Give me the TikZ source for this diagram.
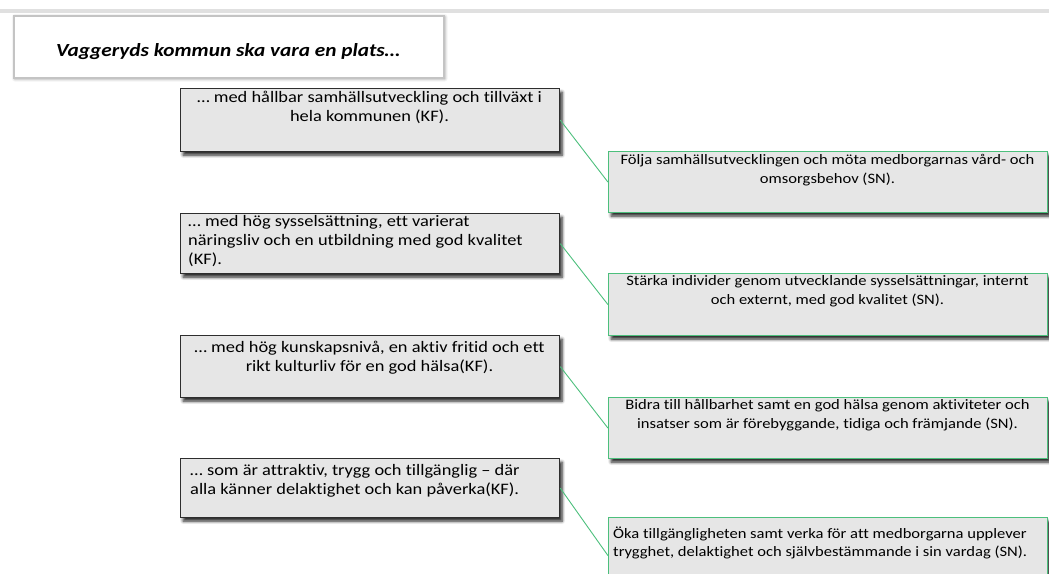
\documentclass[tikz,border=0pt]{standalone}
\usepackage{fontspec}
\setmainfont{Carlito}[FakeStretch=1.15, Ligatures=NoCommon]
\usetikzlibrary{shadows.blur}
\definecolor{boxfill}{HTML}{E6E6E6}
\definecolor{lborder}{HTML}{2E2E2E}
\definecolor{gborder}{HTML}{4CBF7C}
\definecolor{tborder}{HTML}{C4C4C4}
\definecolor{band}{HTML}{E0E0E0}
\begin{document}
\begin{tikzpicture}[x=1pt,y=-1pt,
  lbox/.style={draw=lborder, line width=1.3pt, fill=boxfill, anchor=north west, inner sep=0pt,
    minimum width=379pt,
    blur shadow={shadow xshift=2.5pt, shadow yshift=-3.5pt, shadow blur steps=6, shadow blur radius=3pt, shadow opacity=85}},
  rbox/.style={draw=gborder, line width=1.3pt, fill=boxfill, anchor=north west, inner sep=0pt,
    minimum width=439pt,
    blur shadow={shadow xshift=2.5pt, shadow yshift=-3.5pt, shadow blur steps=6, shadow blur radius=3pt, shadow opacity=85}},
  tbox/.style={draw=tborder, line width=1.6pt, fill=white, anchor=north west, inner sep=0pt,
    minimum width=430pt, minimum height=62pt,
    blur shadow={shadow xshift=1pt, shadow yshift=-1pt, shadow blur steps=6, shadow blur radius=3pt, shadow opacity=45}},
  ltext/.style={inner sep=0pt, anchor=north, font=\fontsize{16}{19}\selectfont, text=black},
  rtext/.style={inner sep=0pt, anchor=north, font=\fontsize{14.4}{18.5}\selectfont, text=black},
  conn/.style={draw=gborder, line width=0.9pt}
]
\useasboundingbox (0,0) rectangle (1049,573);
\clip (0,0) rectangle (1049,573);
\fill[band] (0,9) rectangle (1049,12.5);

% title
\node[tbox] (title) at (13,15) {};
\node[inner sep=0pt, font=\fontsize{18.5}{22}\selectfont\bfseries\itshape] (titletext) at (228,52) {Vaggeryds kommun ska vara en plats…};

% left boxes
\node[lbox, minimum height=63pt] (l1) at (180,88) {};
\node[lbox, minimum height=60pt] (l2) at (180,213) {};
\node[lbox, minimum height=62pt] (l3) at (180,335) {};
\node[lbox, minimum height=59pt] (l4) at (180,458) {};

% right boxes
\node[rbox, minimum height=61pt] (r1) at (608,151) {};
\node[rbox, minimum height=62pt] (r2) at (608,273) {};
\node[rbox, minimum height=61pt] (r3) at (608,397) {};
\node[rbox, minimum height=76pt] (r4) at (608,517) {};

% left texts
\node[ltext, align=center] (l1t) at (369.5,91.2) {… med hållbar samhällsutveckling och tillväxt i\\hela kommunen (KF).};
\node[ltext, align=left, anchor=north west] (l2t) at (188,215.2) {… med hög sysselsättning, ett varierat\\näringsliv och en utbildning med god kvalitet\\(KF).};
\node[ltext, align=center] (l3t) at (369.5,341.2) {… med hög kunskapsnivå, en aktiv fritid och ett\\rikt kulturliv för en god hälsa(KF).};
\node[ltext, align=left, anchor=north west] (l4t) at (190,464.2) {… som är attraktiv, trygg och tillgänglig – där\\alla känner delaktighet och kan påverka(KF).};

% right texts
\node[rtext, align=center] (r1t) at (827.5,154.5) {Följa samhällsutvecklingen och möta medborgarnas vård- och\\omsorgsbehov (SN).};
\node[rtext, align=center] (r2t) at (827.5,275.5) {Stärka individer genom utvecklande sysselsättningar, internt\\och externt, med god kvalitet (SN).};
\node[rtext, align=center] (r3t) at (827.5,399.5) {Bidra till hållbarhet samt en god hälsa genom aktiviteter och\\insatser som är förebyggande, tidiga och främjande (SN).};
\node[rtext, align=left, anchor=north west] (r4t) at (613,526.7) {Öka tillgängligheten samt verka för att medborgarna upplever\\trygghet, delaktighet och självbestämmande i sin vardag (SN).};

% connectors
\draw[conn] (l1.east) -- (r1.west);
\draw[conn] (l2.east) -- (r2.west);
\draw[conn] (l3.east) -- (r3.west);
\draw[conn] (l4.east) -- (r4.west);
\end{tikzpicture}
\end{document}
